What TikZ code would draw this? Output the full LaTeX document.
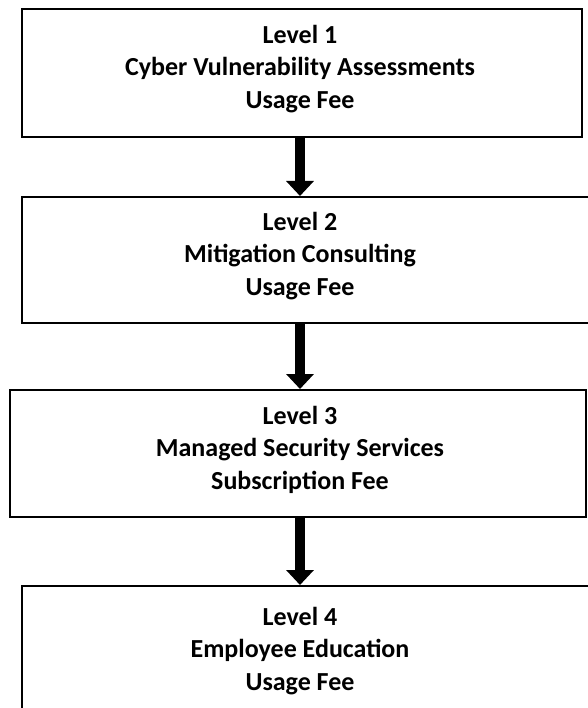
\documentclass[tikz,border=0pt]{standalone}
\usepackage{fontspec}
\setmainfont{Carlito}
\usetikzlibrary{arrows.meta}
\begin{document}
\begin{tikzpicture}[x=1pt,y=-1pt,
  levelbox/.style={draw=black,line width=2pt,fill=white,inner sep=0pt},
  leveltext/.style={align=center,inner sep=0pt,
    font=\bfseries\fontsize{26}{32.5}\selectfont},
  flowarrow/.style={line width=10pt,-{Triangle[width=27pt,length=15pt]}}]
\useasboundingbox (0,0) rectangle (587,708);
% boxes
\node[levelbox,minimum width=560pt,minimum height=128pt] (b1) at (302,73) {};
\node[levelbox,minimum width=580pt,minimum height=126pt] (b2) at (312,260) {};
\node[levelbox,minimum width=576pt,minimum height=127pt] (b3) at (298,453.5) {};
\node[levelbox,minimum width=580pt,minimum height=134pt] (b4) at (312,653) {};
% labels
\node[leveltext] (t1) at ([yshift=4pt]b1.center -| 300,0)
  {Level 1\\Cyber Vulnerability Assessments\\Usage Fee};
\node[leveltext] (t2) at ([yshift=4pt]b2.center -| 300,0)
  {Level 2\\Mitigation Consulting\\Usage Fee};
\node[leveltext] (t3) at ([yshift=4pt]b3.center -| 300,0)
  {Level 3\\Managed Security Services\\Subscription Fee};
\node[leveltext] (t4) at ([yshift=2pt]b4.center -| 300,0)
  {Level 4\\Employee Education\\Usage Fee};
% connectors
\coordinate (ax) at (300,0);
\draw[flowarrow] (b1.south -| ax) -- (b2.north -| ax);
\draw[flowarrow] (b2.south -| ax) -- (b3.north -| ax);
\draw[flowarrow] (b3.south -| ax) -- (b4.north -| ax);
\end{tikzpicture}
\end{document}
